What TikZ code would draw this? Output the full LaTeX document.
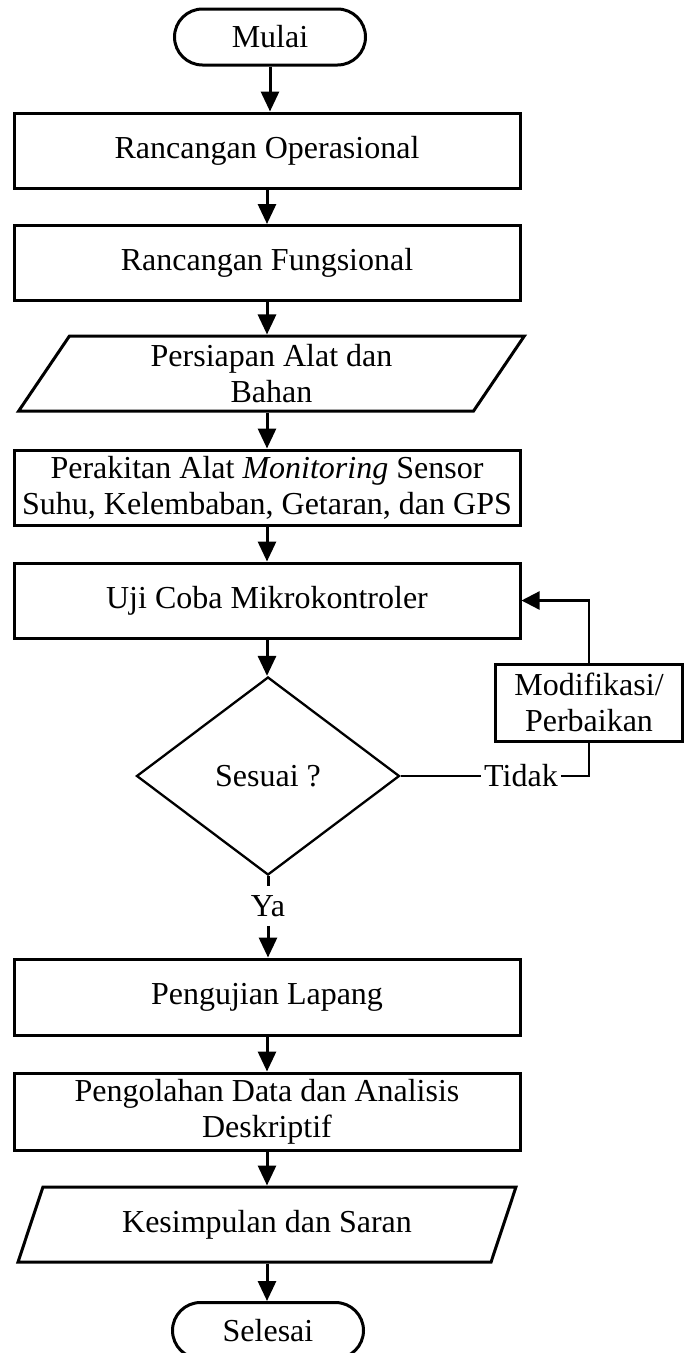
\documentclass[tikz,border=0pt]{standalone}
\usepackage{fontspec}
\setmainfont{Liberation Serif}
\usetikzlibrary{shapes.geometric,arrows.meta}
\begin{document}
\begin{tikzpicture}[x=1pt,y=-1pt,
  base/.style={draw=black,line width=3pt,font=\fontsize{32}{36}\selectfont,align=center,inner sep=2pt},
  procbox/.style={base,rectangle,minimum width=506pt,minimum height=75pt},
  termbox/.style={base,rectangle,rounded corners=28pt,minimum width=191pt,minimum height=56pt},
  iobox/.style={base,trapezium,trapezium left angle=63.7,trapezium right angle=116.3,trapezium stretches=true,minimum width=506pt,minimum height=75pt},
  decbox/.style={base,diamond,line width=2.3pt,minimum width=263pt,minimum height=198pt,inner sep=0pt},
  lbl/.style={font=\fontsize{32}{36}\selectfont,inner xsep=3pt,inner ysep=9pt},
  flow/.style={line width=3pt,-{Triangle[length=20pt,width=18pt]}},
  plain/.style={line width=2.3pt}
]
\path[use as bounding box,clip] (0,0) rectangle (684,1353);
\node[termbox] (mulai) at (270,37) {Mulai};
\node[procbox] (ro) at (267,150.5) {Rancangan Operasional};
\node[procbox] (rf) at (267,263) {Rancangan Fungsional};
\node[iobox] (pab) at (271.5,373.5) {Persiapan Alat dan\\Bahan};
\node[procbox] (rak) at (267,487.5) {Perakitan Alat \textit{Monitoring} Sensor\\Suhu, Kelembaban, Getaran, dan GPS};
\node[procbox] (uji) at (267,600.5) {Uji Coba Mikrokontroler};
\node[decbox] (ses) at (268,776) {Sesuai ?};
\node[procbox,minimum width=187pt,minimum height=77pt] (mod) at (589,702.5) {Modifikasi/\\Perbaikan};
\node[lbl,inner ysep=3pt] (tidak) at (521,776) {Tidak};
\node[lbl] (ya) at (268,906) {Ya};
\node[procbox,minimum height=76pt] (lap) at (267,997) {Pengujian Lapang};
\node[procbox,minimum height=77pt] (olah) at (267,1111.5) {Pengolahan Data dan Analisis\\Deskriptif};
\node[iobox,minimum width=500pt] (kes) at (267,1224.5) {Kesimpulan dan Saran};
\node[termbox] (sel) at (268,1330.5) {Selesai};

\draw[flow] (mulai.south) -- (mulai.south |- ro.north);
\draw[flow] (ro.south) -- (ro.south |- rf.north);
\draw[flow] (rf.south) -- (rf.south |- pab.north);
\draw[flow] (rf.south |- pab.south) -- (rf.south |- rak.north);
\draw[flow] (rak.south) -- (rak.south |- uji.north);
\draw[flow] (uji.south) -- (uji.south |- ses.north);
\draw[line width=2pt] (ses.east) -- (tidak.west);
\draw[plain] (tidak.east) -| (mod.south);
\draw[plain,-{Triangle[length=18pt,width=18pt]}] (mod.north) |- (uji.east);
\draw[line width=3pt] (ses.south) -- (ya.north);
\draw[flow] (ya.south) -- (ya.south |- lap.north);
\draw[flow] (lap.south) -- (lap.south |- olah.north);
\draw[flow] (olah.south) -- (olah.south |- kes.north);
\draw[flow] (olah.south |- kes.south) -- (olah.south |- sel.north);
\end{tikzpicture}
\end{document}
